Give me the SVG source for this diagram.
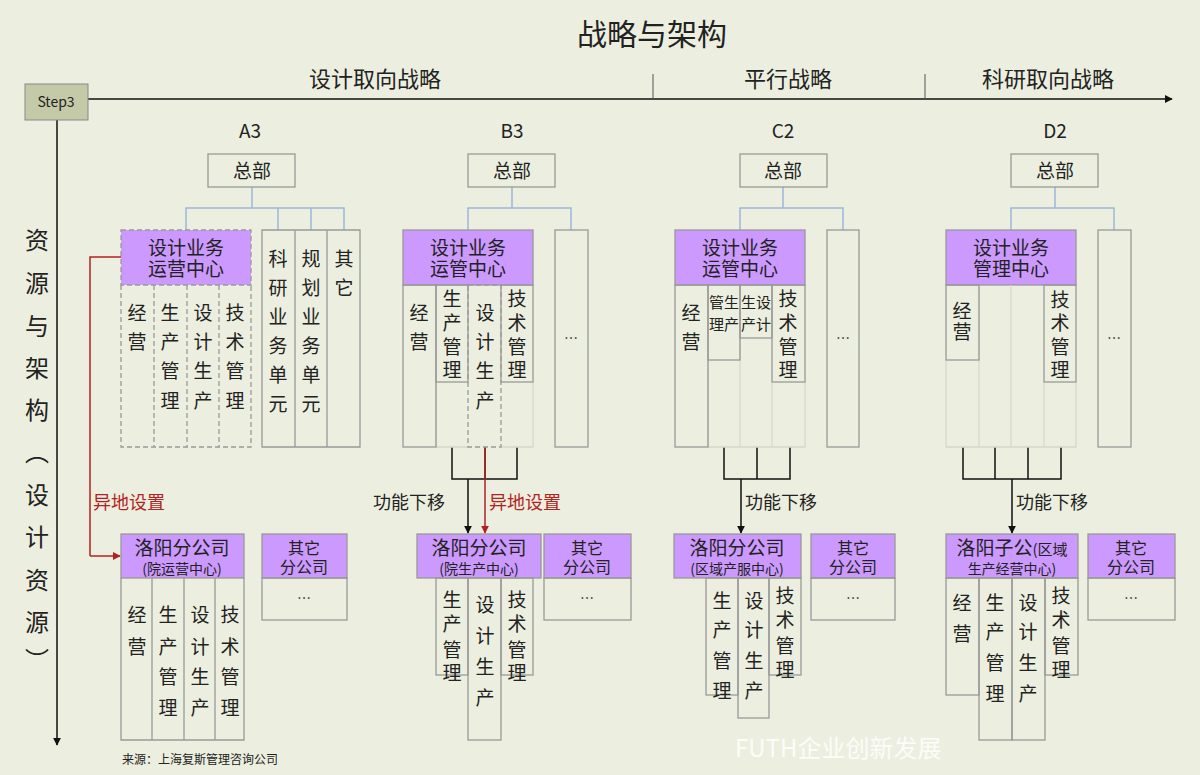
<svg xmlns="http://www.w3.org/2000/svg" width="1200" height="775" viewBox="0 0 1200 775">
<defs>
<style>
.b{fill:none;stroke:#999;stroke-width:1.3}
.d{fill:none;stroke:#999;stroke-width:1.3;stroke-dasharray:5 3}
.p{fill:#cc99ff;stroke:#999;stroke-width:1.3}
.pd{fill:#cc99ff;stroke:#999;stroke-width:1.3;stroke-dasharray:5 3}
.lt{fill:none;stroke:#d6d9c8;stroke-width:1.3}
.bl{fill:none;stroke:#9ab8dc;stroke-width:1.5}
.k{fill:none;stroke:#111;stroke-width:1.5}
.r{fill:none;stroke:#b22222;stroke-width:1.5}
text{font-family:"Noto Sans CJK SC","Liberation Sans",sans-serif;fill:#222;text-anchor:middle}
.t{font-size:19px}
.s{font-size:14px}
.h{font-size:19px}
.red{fill:#b22222}
</style>
<marker id="ak" viewBox="0 0 10 10" refX="9" refY="5" markerWidth="8" markerHeight="10" orient="auto" markerUnits="userSpaceOnUse"><path d="M0,0L10,5L0,10z" fill="#111"/></marker>
<marker id="ar" viewBox="0 0 10 10" refX="9" refY="5" markerWidth="8" markerHeight="10" orient="auto" markerUnits="userSpaceOnUse"><path d="M0,0L10,5L0,10z" fill="#b22222"/></marker>
</defs>
<rect width="1200" height="775" fill="#ecefdf"/>
<text x="652" y="45" style="font-size:30px">战略与架构</text>
<g id="axes">
<line x1="88" y1="99" x2="1172" y2="99" class="k" marker-end="url(#ak)"/>
<line x1="57" y1="120" x2="57" y2="745" class="k" marker-end="url(#ak)"/>
<line x1="653" y1="74" x2="653" y2="99" stroke="#555" stroke-width="1"/>
<line x1="925" y1="74" x2="925" y2="99" stroke="#555" stroke-width="1"/>
</g>
<g id="step3"><rect x="25" y="84" width="63" height="36" fill="#c4c9a8" stroke="#888"/><text x="56" y="107" style="font-size:14px">Step3</text></g>
<text x="375" y="87" style="font-size:22px">设计取向战略</text>
<text x="788" y="87" style="font-size:22px">平行战略</text>
<text x="1048" y="87" style="font-size:22px">科研取向战略</text>
<text style="font-size:24px"><tspan x="37" y="249">资</tspan><tspan x="37" y="292">源</tspan><tspan x="37" y="335">与</tspan><tspan x="37" y="377">架</tspan><tspan x="37" y="419">构</tspan><tspan x="37" y="461">︵</tspan><tspan x="37" y="504">设</tspan><tspan x="37" y="546">计</tspan><tspan x="37" y="589">资</tspan><tspan x="37" y="631">源</tspan><tspan x="37" y="669">︶</tspan></text>
<text x="250" y="138" style="font-size:19px">A3</text>
<text x="512" y="138" style="font-size:19px">B3</text>
<text x="783" y="138" style="font-size:19px">C2</text>
<text x="1055" y="138" style="font-size:19px">D2</text>

<g id="connectors">
<path class="bl" d="M252,187V208M186,230V208H344V230M278,208V230M311,208V230"/>
<path class="bl" d="M512,187V208M468,230V208H571V230"/>
<path class="bl" d="M783,187V208M740,230V208H843V230"/>
<path class="bl" d="M1055,187V208M1011,230V208H1114V230"/>
<path class="k" d="M452,447V479H517V447M485,447V479"/>
<line x1="468" y1="479" x2="468" y2="533" class="k" marker-end="url(#ak)"/>
<line x1="485" y1="447" x2="485" y2="533" class="r" marker-end="url(#ar)"/>
<path class="k" d="M724,447V479H790V447M757,447V479"/>
<line x1="741" y1="479" x2="741" y2="533" class="k" marker-end="url(#ak)"/>
<path class="k" d="M963,447V479H1061V447M995,447V479M1028,447V479"/>
<line x1="1012" y1="479" x2="1012" y2="533" class="k" marker-end="url(#ak)"/>
<path class="r" d="M121,257H90V556"/>
<line x1="90" y1="556" x2="120" y2="556" class="r" marker-end="url(#ar)"/>
<text x="445" y="509" style="font-size:18px;text-anchor:end">功能下移</text>
<text x="489" y="509" class="red" style="font-size:18px;text-anchor:start">异地设置</text>
<text x="93" y="509" class="red" style="font-size:18px;text-anchor:start">异地设置</text>
<text x="745" y="509" style="font-size:18px;text-anchor:start">功能下移</text>
<text x="1016" y="509" style="font-size:18px;text-anchor:start">功能下移</text>
</g>

<!-- A3 -->
<g id="a3-hq"><rect x="208" y="154" width="87" height="33" class="b"/><text x="252" y="178" class="t">总部</text></g>
<g id="a3-center"><rect x="121" y="230" width="130" height="55" class="pd"/><text x="186" y="255" class="h">设计业务</text><text x="186" y="276" class="h">运营中心</text></g>
<g id="a3-cols">
<path class="d" d="M121,285V447H251V285M154,285V447M187,285V447M219,285V447"/>
<text class="t"><tspan x="137" y="320">经</tspan><tspan x="137" y="349">营</tspan></text>
<text class="t"><tspan x="170" y="320">生</tspan><tspan x="170" y="349">产</tspan><tspan x="170" y="378">管</tspan><tspan x="170" y="408">理</tspan></text>
<text class="t"><tspan x="203" y="320">设</tspan><tspan x="203" y="349">计</tspan><tspan x="203" y="378">生</tspan><tspan x="203" y="408">产</tspan></text>
<text class="t"><tspan x="235" y="320">技</tspan><tspan x="235" y="349">术</tspan><tspan x="235" y="378">管</tspan><tspan x="235" y="408">理</tspan></text>
</g>
<g id="a3-units">
<path class="b" d="M262,230H360V447H262ZM295,230V447M327,230V447"/>
<text class="t"><tspan x="278" y="266">科</tspan><tspan x="278" y="295">研</tspan><tspan x="278" y="324">业</tspan><tspan x="278" y="353">务</tspan><tspan x="278" y="382">单</tspan><tspan x="278" y="411">元</tspan></text>
<text class="t"><tspan x="311" y="266">规</tspan><tspan x="311" y="295">划</tspan><tspan x="311" y="324">业</tspan><tspan x="311" y="353">务</tspan><tspan x="311" y="382">单</tspan><tspan x="311" y="411">元</tspan></text>
<text class="t"><tspan x="344" y="266">其</tspan><tspan x="344" y="295">它</tspan></text>
</g>
<g id="a3-luoyang">
<rect x="121" y="534" width="123" height="44" class="p"/><text x="182" y="555" class="h">洛阳分公司</text><text x="182" y="574" class="s">(院运营中心)</text>
<path class="b" d="M121,578V740H244V578M152,578V740M184,578V740M215,578V740"/>
<text class="t"><tspan x="137" y="622">经</tspan><tspan x="137" y="654">营</tspan></text>
<text class="t"><tspan x="168" y="622">生</tspan><tspan x="168" y="654">产</tspan><tspan x="168" y="684">管</tspan><tspan x="168" y="715">理</tspan></text>
<text class="t"><tspan x="200" y="622">设</tspan><tspan x="200" y="654">计</tspan><tspan x="200" y="684">生</tspan><tspan x="200" y="715">产</tspan></text>
<text class="t"><tspan x="230" y="622">技</tspan><tspan x="230" y="654">术</tspan><tspan x="230" y="684">管</tspan><tspan x="230" y="715">理</tspan></text>
</g>
<g id="a3-other"><rect x="262" y="534" width="85" height="44" class="p"/><text x="304" y="554" style="font-size:16px">其它</text><text x="304" y="573" style="font-size:16px">分公司</text><rect x="262" y="578" width="85" height="42" class="b"/><text x="304" y="603" class="s">…</text></g>

<!-- B3 -->
<g id="b3-hq"><rect x="468" y="154" width="87" height="33" class="b"/><text x="512" y="178" class="t">总部</text></g>
<g id="b3-center"><rect x="403" y="230" width="130" height="55" class="p"/><text x="468" y="255" class="h">设计业务</text><text x="468" y="276" class="h">运管中心</text></g>
<g id="b3-cols">
<path class="lt" d="M436,382V447H468M501,447H533V382"/>
<rect x="403" y="285" width="33" height="162" class="b"/>
<rect x="436" y="285" width="32" height="97" class="b"/>
<rect x="501" y="285" width="32" height="97" class="b"/>
<rect x="468" y="285" width="33" height="162" class="d"/>
<text class="t"><tspan x="419" y="320">经</tspan><tspan x="419" y="349">营</tspan></text>
<text class="t"><tspan x="452" y="306">生</tspan><tspan x="452" y="330">产</tspan><tspan x="452" y="354">管</tspan><tspan x="452" y="377">理</tspan></text>
<text class="t"><tspan x="485" y="320">设</tspan><tspan x="485" y="349">计</tspan><tspan x="485" y="378">生</tspan><tspan x="485" y="408">产</tspan></text>
<text class="t"><tspan x="517" y="306">技</tspan><tspan x="517" y="330">术</tspan><tspan x="517" y="354">管</tspan><tspan x="517" y="377">理</tspan></text>
</g>
<g id="b3-more"><rect x="555" y="230" width="33" height="217" class="b"/><text x="571" y="343" class="s">…</text></g>
<g id="b3-luoyang">
<rect x="417" y="534" width="124" height="44" class="p"/><text x="479" y="555" class="h">洛阳分公司</text><text x="479" y="574" class="s">(院生产中心)</text>
<rect x="436" y="578" width="32" height="97" class="b"/><rect x="468" y="578" width="33" height="162" class="b"/><rect x="501" y="578" width="32" height="97" class="b"/>
<text class="t"><tspan x="452" y="607">生</tspan><tspan x="452" y="631">产</tspan><tspan x="452" y="657">管</tspan><tspan x="452" y="680">理</tspan></text>
<text class="t"><tspan x="485" y="612">设</tspan><tspan x="485" y="643">计</tspan><tspan x="485" y="674">生</tspan><tspan x="485" y="705">产</tspan></text>
<text class="t"><tspan x="517" y="607">技</tspan><tspan x="517" y="631">术</tspan><tspan x="517" y="657">管</tspan><tspan x="517" y="680">理</tspan></text>
</g>
<g id="b3-other"><rect x="544" y="534" width="87" height="44" class="p"/><text x="587" y="554" style="font-size:16px">其它</text><text x="587" y="573" style="font-size:16px">分公司</text><rect x="544" y="578" width="87" height="42" class="b"/><text x="587" y="603" class="s">…</text></g>

<!-- C2 -->
<g id="c2-hq"><rect x="740" y="154" width="87" height="33" class="b"/><text x="783" y="178" class="t">总部</text></g>
<g id="c2-center"><rect x="675" y="230" width="130" height="55" class="p"/><text x="740" y="255" class="h">设计业务</text><text x="740" y="276" class="h">运管中心</text></g>
<g id="c2-cols">
<path class="lt" d="M708,360V447H805V382M740,338V447M772,382V447"/>
<rect x="675" y="285" width="33" height="162" class="b"/>
<rect x="708" y="285" width="32" height="75" class="b"/>
<rect x="740" y="285" width="32" height="53" class="b"/>
<rect x="772" y="285" width="33" height="97" class="b"/>
<text class="t"><tspan x="691" y="320">经</tspan><tspan x="691" y="349">营</tspan></text>
<text style="font-size:15px"><tspan x="724" y="308">管生</tspan><tspan x="724" y="330">理产</tspan></text>
<text style="font-size:15px"><tspan x="756" y="308">生设</tspan><tspan x="756" y="330">产计</tspan></text>
<text class="t"><tspan x="788" y="306">技</tspan><tspan x="788" y="330">术</tspan><tspan x="788" y="354">管</tspan><tspan x="788" y="377">理</tspan></text>
</g>
<g id="c2-more"><rect x="827" y="230" width="32" height="217" class="b"/><text x="843" y="343" class="s">…</text></g>
<g id="c2-luoyang">
<rect x="674" y="534" width="127" height="44" class="p"/><text x="737" y="555" class="h">洛阳分公司</text><text x="737" y="574" class="s">(区域产服中心)</text>
<rect x="706" y="578" width="32" height="117" class="b"/><rect x="738" y="578" width="31" height="140" class="b"/><rect x="769" y="578" width="32" height="97" class="b"/>
<text class="t"><tspan x="722" y="608">生</tspan><tspan x="722" y="637">产</tspan><tspan x="722" y="668">管</tspan><tspan x="722" y="698">理</tspan></text>
<text class="t"><tspan x="754" y="608">设</tspan><tspan x="754" y="637">计</tspan><tspan x="754" y="668">生</tspan><tspan x="754" y="698">产</tspan></text>
<text class="t"><tspan x="785" y="603">技</tspan><tspan x="785" y="627">术</tspan><tspan x="785" y="653">管</tspan><tspan x="785" y="677">理</tspan></text>
</g>
<g id="c2-other"><rect x="811" y="534" width="84" height="44" class="p"/><text x="853" y="554" style="font-size:16px">其它</text><text x="853" y="573" style="font-size:16px">分公司</text><rect x="811" y="578" width="84" height="42" class="b"/><text x="853" y="603" class="s">…</text></g>

<!-- D2 -->
<g id="d2-hq"><rect x="1011" y="154" width="87" height="33" class="b"/><text x="1055" y="178" class="t">总部</text></g>
<g id="d2-center"><rect x="946" y="230" width="130" height="55" class="p"/><text x="1011" y="255" class="h">设计业务</text><text x="1011" y="276" class="h">管理中心</text></g>
<g id="d2-cols">
<path class="lt" d="M946,360V447H1076V382M979,285V447M1011,285V447M1044,382V447"/>
<rect x="946" y="285" width="33" height="75" class="b"/>
<rect x="1044" y="285" width="32" height="97" class="b"/>
<text class="t"><tspan x="962" y="318">经</tspan><tspan x="962" y="339">营</tspan></text>
<text class="t"><tspan x="1060" y="307">技</tspan><tspan x="1060" y="330">术</tspan><tspan x="1060" y="354">管</tspan><tspan x="1060" y="377">理</tspan></text>
</g>
<g id="d2-more"><rect x="1098" y="230" width="33" height="217" class="b"/><text x="1114" y="343" class="s">…</text></g>
<g id="d2-luoyang">
<rect x="946" y="534" width="132" height="44" class="p"/><text x="1012" y="555" class="h">洛阳子公<tspan style="font-size:15px">(区域</tspan></text><text x="1012" y="574" class="s">生产经营中心)</text>
<rect x="946" y="578" width="33" height="117" class="b"/><rect x="979" y="578" width="33" height="162" class="b"/><rect x="1012" y="578" width="33" height="162" class="b"/><rect x="1045" y="578" width="33" height="97" class="b"/>
<text class="t"><tspan x="962" y="610">经</tspan><tspan x="962" y="641">营</tspan></text>
<text class="t"><tspan x="995" y="610">生</tspan><tspan x="995" y="639">产</tspan><tspan x="995" y="670">管</tspan><tspan x="995" y="701">理</tspan></text>
<text class="t"><tspan x="1028" y="610">设</tspan><tspan x="1028" y="639">计</tspan><tspan x="1028" y="670">生</tspan><tspan x="1028" y="701">产</tspan></text>
<text class="t"><tspan x="1061" y="603">技</tspan><tspan x="1061" y="627">术</tspan><tspan x="1061" y="653">管</tspan><tspan x="1061" y="677">理</tspan></text>
</g>
<g id="d2-other"><rect x="1088" y="534" width="87" height="44" class="p"/><text x="1131" y="554" style="font-size:16px">其它</text><text x="1131" y="573" style="font-size:16px">分公司</text><rect x="1088" y="578" width="87" height="42" class="b"/><text x="1131" y="603" class="s">…</text></g>

<text x="122" y="764" style="font-size:12px;text-anchor:start">来源：上海复斯管理咨询公司</text>
<text x="735" y="757" style="font-size:24px;fill:#ffffff;opacity:0.85;text-anchor:start">FUTH企业创新发展</text>
</svg>
